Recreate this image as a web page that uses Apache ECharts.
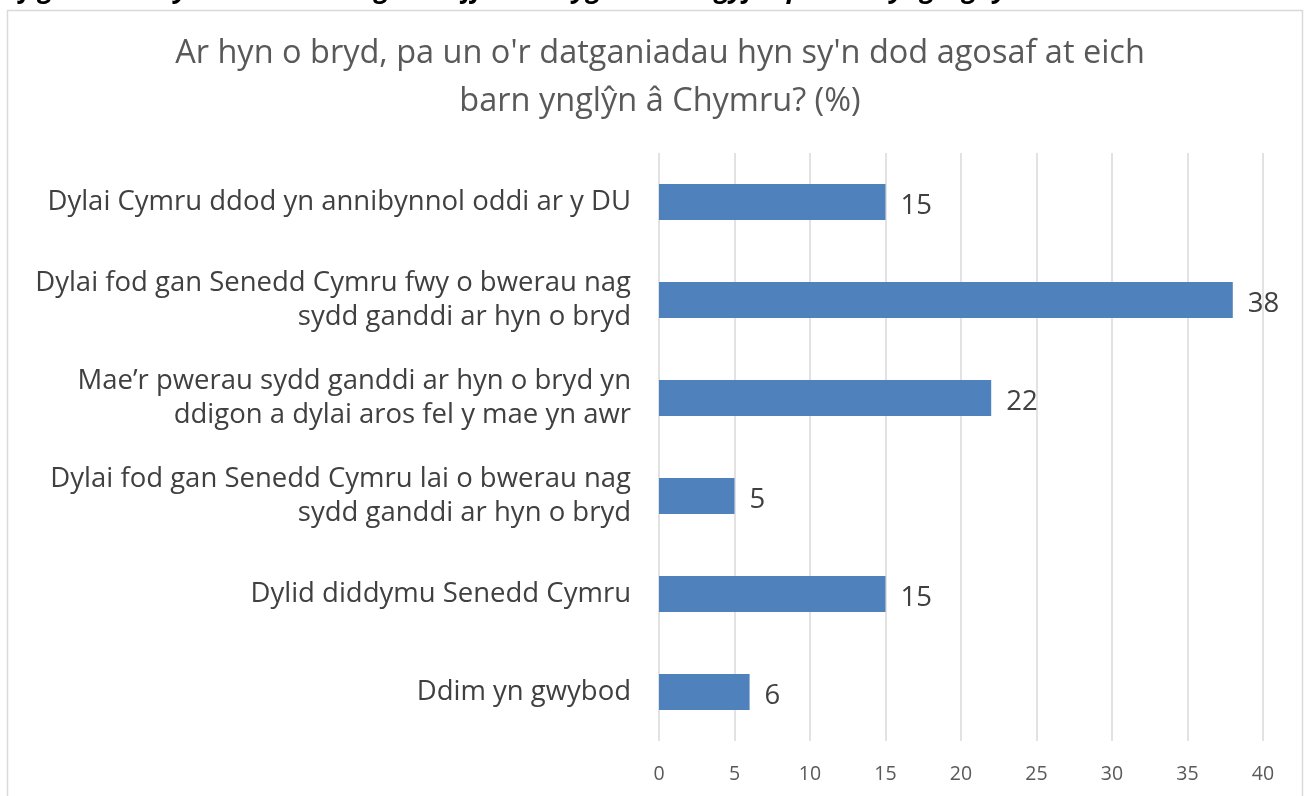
<!DOCTYPE html>
<html>
<head>
<meta charset="utf-8">
<script src="https://cdn.jsdelivr.net/npm/echarts@6/dist/echarts.min.js"></script>
<style>
  html, body { margin: 0; padding: 0; background: #fff; }
  #chart { width: 1307px; height: 796px; }
</style>
</head>
<body>
<div id="chart"></div>
<script>
const categories = [
  'Dylai Cymru ddod yn annibynnol oddi ar y DU',
  'Dylai fod gan Senedd Cymru fwy o bwerau nag\nsydd ganddi ar hyn o bryd',
  'Mae\u2019r pwerau sydd ganddi ar hyn o bryd yn\nddigon a dylai aros fel y mae yn awr',
  'Dylai fod gan Senedd Cymru lai o bwerau nag\nsydd ganddi ar hyn o bryd',
  'Dylid diddymu Senedd Cymru',
  'Ddim yn gwybod'
]
const values = [15, 38, 22, 5, 15, 6]
const xTicks = [0, 5, 10, 15, 20, 25, 30, 35, 40]

const chart = echarts.init(document.getElementById('chart'))

const option = {
  animation: false,
  textStyle: { fontFamily: 'Open Sans, Noto Sans, sans-serif' },
  title: {
    text: "Ar hyn o bryd, pa un o'r datganiadau hyn sy'n dod agosaf at eich\nbarn ynglŷn â Chymru? (%)",
    left: 655,
    textAlign: 'center',
    top: 25,
    textStyle: {
      fontSize: 32.5,
      fontWeight: 'normal',
      color: '#595959',
      lineHeight: 48
    }
  },
  graphic: [
    {
      type: 'rect',
      shape: { x: 7.5, y: 10.5, width: 1295, height: 800 },
      style: { fill: 'none', stroke: '#d9d9d9', lineWidth: 1.5 },
      silent: true
    },
    {
      type: 'text',
      left: 6,
      top: -23,
      style: {
        text: "Ffigur 1: Canlyniadau'r arolwg ar hoff ddatblygiadau ar gyfer pwerau yng Nghymru",
        font: 'italic bold 27px "Open Sans", sans-serif',
        fill: '#000'
      },
      silent: true
    }
  ],
  grid: {
    left: 659,
    right: 44,
    top: 153,
    bottom: 55
  },
  xAxis: {
    type: 'value',
    min: 0,
    max: 40,
    interval: 5,
    axisLine: { show: false },
    axisTick: { show: false },
    splitLine: { lineStyle: { color: '#d9d9d9', width: 1.5 } },
    axisLabel: {
      color: '#595959',
      fontSize: 19.5,
      margin: 23,
      formatter: v => xTicks.includes(v) ? String(v) : ''
    }
  },
  yAxis: {
    type: 'category',
    inverse: true,
    data: categories,
    axisLine: { show: false },
    axisTick: { show: false },
    axisLabel: {
      color: '#404040',
      fontSize: 27.5,
      lineHeight: 34,
      margin: 28,
      align: 'right'
    }
  },
  series: [
    {
      type: 'bar',
      data: values,
      barWidth: 36,
      itemStyle: { color: '#4f81bd' },
      label: {
        show: true,
        position: 'right',
        distance: 15,
        offset: [0, 4],
        color: '#404040',
        fontSize: 27.5
      }
    }
  ]
}

chart.setOption(option)
</script>
</body>
</html>
